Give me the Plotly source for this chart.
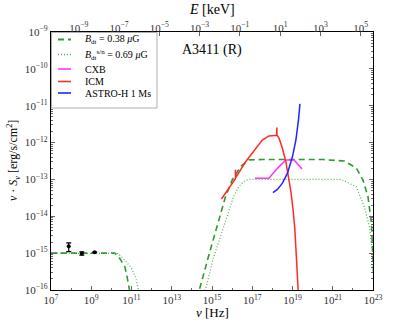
import numpy as np
import plotly.graph_objects as go

# ---------------- data (log10 values) ----------------
# radio synchrotron model
radio_lognu_dash = [7.0, 8.0, 9.0, 9.8, 10.17, 10.38, 10.67, 10.78, 10.9, 11.0]
radio_logS_dash = [-15.0, -15.0, -15.0, -15.0, -15.0, -15.11, -15.37, -15.64, -16.0, -16.5]
radio_lognu_dot = [7.0, 8.0, 9.0, 10.0, 10.33, 10.67, 11.0, 11.22, 11.37, 11.5]
radio_logS_dot = [-15.0, -15.0, -15.0, -15.0, -15.01, -15.19, -15.41, -15.68, -16.0, -16.4]

# inverse Compton model
ic_lognu_dash = [14.2, 14.37, 14.82, 15.25, 15.42, 15.67, 16.0, 16.42, 16.83, 17.5, 19.0,
                 20.5, 21.57, 22.17, 22.5, 22.75, 22.92, 23.02, 23.1]
ic_logS_dash = [-16.5, -16.0, -15.1, -14.28, -13.92, -13.47, -13.02, -12.65, -12.47, -12.46, -12.46,
                -12.46, -12.5, -12.69, -13.02, -13.47, -14.18, -15.19, -16.5]
ic_lognu_dot = [14.5, 14.67, 15.07, 15.55, 15.82, 16.07, 16.32, 16.57, 16.8, 18.0, 20.0,
                21.42, 22.17, 22.57, 22.82, 23.02, 23.1]
ic_logS_dot = [-16.5, -16.0, -15.13, -14.32, -13.91, -13.47, -13.2, -13.06, -13.0, -13.0, -13.0,
               -13.0, -13.2, -13.74, -14.28, -15.19, -16.5]

# CXB
cxb_lognu = [17.13, 17.83, 18.25, 18.67, 19.08, 19.47]
cxb_logS = [-12.97, -12.97, -12.7, -12.47, -12.47, -12.72]

# ICM
icm_lognu = [15.47, 15.92, 16.16, 16.17, 16.18, 16.67, 17.17, 17.5, 17.83, 18.13, 18.21, 18.22,
             18.23, 18.33, 18.5, 18.67, 18.8, 18.92, 19.03, 19.12, 19.28]
icm_logS = [-13.53, -13.15, -12.98, -12.74, -12.95, -12.52, -12.16, -11.93, -11.82, -11.81, -11.8,
            -11.59, -11.8, -11.88, -12.16, -12.52, -12.93, -13.33, -13.83, -14.37, -16.0]

# ASTRO-H 1 Ms sensitivity
astro_lognu = [18.03, 18.25, 18.5, 18.75, 19.0, 19.17, 19.3, 19.37]
astro_logS = [-13.36, -13.27, -13.1, -12.83, -12.38, -11.93, -11.37, -10.95]

# radio data points
obs_nu = [7.6e7, 3.4e8, 1.48e9]
obs_S = [1.55e-15, 0.98e-15, 1.06e-15]
obs_err_plus = [0.35e-15, 0.1e-15, 0.0]
obs_err_minus = [0.45e-15, 0.1e-15, 0.0]

H_KEV = 4.1357e-18  # keV s

nu_ticks = [10.0 ** e for e in range(7, 24, 2)]
nu_ticktext = ["10<sup>%d</sup>" % e for e in range(7, 24, 2)]
E_ticks = [10.0 ** e for e in range(-9, 6, 2)]
E_ticktext = [("10<sup>%d</sup>" % e).replace("-", "−") for e in range(-9, 6, 2)]
S_ticks = [10.0 ** e for e in range(-16, -8)]
S_ticktext = ["10<sup>−%d</sup>" % (-e) for e in range(-16, -8)]

legend_names = ["<i>B</i><sub>dt</sub> = 0.38 <i>μ</i>G",
                "<i>B</i><sub>dt</sub><sup>s/n</sup> = 0.69 <i>μ</i>G",
                "CXB", "ICM", "ASTRO-H 1 Ms"]


def lin(v):
    return [10.0 ** x for x in v]


FONT = "Liberation Serif, DejaVu Serif, serif"
GREEN = "#2e9a2e"
GREEN_L = "#4fae4f"
MAGENTA = "#ff33ff"
RED = "#ff2a2a"
BLUE = "#2424ff"
DASH = "6px,4px"
DOT = "1px,2px"

legend_styles = [(GREEN, DASH, 1.8), (GREEN_L, DOT, 1.3), (MAGENTA, "solid", 1.6),
                 (RED, "solid", 1.6), (BLUE, "solid", 1.6)]

fig = go.Figure()

# -------------------
# models
# -------------------
fig.add_trace(go.Scatter(x=lin(radio_lognu_dash), y=lin(radio_logS_dash), mode="lines",
                         line=dict(color=GREEN, width=1.6, dash=DASH)))
fig.add_trace(go.Scatter(x=lin(radio_lognu_dot), y=lin(radio_logS_dot), mode="lines",
                         line=dict(color=GREEN_L, width=1.2, dash=DOT)))
fig.add_trace(go.Scatter(x=lin(ic_lognu_dash), y=lin(ic_logS_dash), mode="lines",
                         line=dict(color=GREEN, width=1.6, dash=DASH)))
fig.add_trace(go.Scatter(x=lin(ic_lognu_dot), y=lin(ic_logS_dot), mode="lines",
                         line=dict(color=GREEN_L, width=1.2, dash=DOT)))

fig.add_trace(go.Scatter(x=lin(cxb_lognu), y=lin(cxb_logS), mode="lines",
                         line=dict(color=MAGENTA, width=1.5)))
fig.add_trace(go.Scatter(x=lin(icm_lognu), y=lin(icm_logS), mode="lines",
                         line=dict(color=RED, width=1.5)))
fig.add_trace(go.Scatter(x=lin(astro_lognu), y=lin(astro_logS), mode="lines",
                         line=dict(color=BLUE, width=1.5)))

# data points
fig.add_trace(go.Scatter(x=obs_nu, y=obs_S, mode="markers",
                         marker=dict(color="black", size=4),
                         error_y=dict(type="data", symmetric=False, array=obs_err_plus,
                                      arrayminus=obs_err_minus, color="black",
                                      thickness=1.2, width=2.5)))

# dummy trace for top energy axis
fig.add_trace(go.Scatter(x=[1e-9, 1e5], y=[1e-12, 1e-12], xaxis="x2", mode="lines",
                         line=dict(width=0), hoverinfo="skip"))

# -------------------
# layout
# -------------------
tickfont = dict(family=FONT, size=11, color="#333")
lo, hi = 7, 23
off = np.log10(H_KEV)

fig.update_layout(
    width=415, height=323,
    margin=dict(l=51, r=42, t=32, b=33),
    plot_bgcolor="white", paper_bgcolor="white",
    font=dict(family=FONT, color="black"),
    showlegend=False,
    xaxis=dict(type="log", range=[lo, hi], showgrid=False, zeroline=False,
               showline=True, linecolor="black", linewidth=1.2, mirror=True,
               tickvals=nu_ticks, ticktext=nu_ticktext, ticks="inside", ticklen=4,
               tickcolor="#666", tickfont=tickfont,
               minor=dict(tickvals=[10.0 ** e for e in range(8, 23, 2)], ticks="inside",
                          ticklen=2, tickcolor="#666")),
    xaxis2=dict(type="log", range=[lo + off, hi + off], overlaying="x", side="top",
                anchor="y", showgrid=False, zeroline=False, showline=False,
                tickvals=E_ticks, ticktext=E_ticktext, ticks="inside", ticklen=4,
                tickcolor="#666", tickfont=tickfont, ticklabelstandoff=-3),
    yaxis=dict(type="log", range=[-16, -9], showgrid=False, zeroline=False,
               showline=True, linecolor="black", linewidth=1.2, mirror="ticks",
               tickvals=S_ticks, ticktext=S_ticktext, ticks="inside", ticklen=4,
               tickcolor="#666", tickfont=tickfont,
               minor=dict(tickvals=[m * 10.0 ** e for e in range(-16, -9) for m in range(2, 10)],
                          ticks="inside", ticklen=2, tickcolor="#666")),
)

# -------------------
# hand-made legend (top-left box)
# -------------------
PW, PH = 322.0, 258.0  # plot area size in px


def px(x):
    return x / PW


def py(y):
    return 1 - y / PH


fig.add_shape(type="rect", xref="paper", yref="paper", x0=px(0.5), x1=px(106), y0=py(0.5), y1=py(76),
              line=dict(color="#b0b0b0", width=1), fillcolor="rgba(255,255,255,0.9)", layer="above")
row_y = [7.5, 22.5, 37, 49.5, 61]
for name, (col, dash, w), ry in zip(legend_names, legend_styles, row_y):
    fig.add_shape(type="line", xref="paper", yref="paper", x0=px(7), x1=px(20), y0=py(ry), y1=py(ry),
                  line=dict(color=col, width=w, dash=dash), layer="above")
    fig.add_annotation(text=name, x=px(32), y=py(ry), xref="paper", yref="paper", xanchor="left",
                       yanchor="middle", showarrow=False, font=dict(size=10, family=FONT))

fig.add_annotation(text="A3411 (R)", x=0.5, y=py(18), xref="paper", yref="paper",
                   xanchor="center", yanchor="middle", showarrow=False, font=dict(size=14))

fig.add_annotation(text="<i>E</i> [keV]", x=0.5, y=1, xref="paper", yref="paper",
                   xanchor="center", yanchor="middle", yshift=23, showarrow=False, font=dict(size=14))
fig.add_annotation(text="<i>ν</i> [Hz]", x=0.5, y=0, xref="paper", yref="paper",
                   xanchor="center", yanchor="middle", yshift=-22, showarrow=False, font=dict(size=13))
fig.add_annotation(text="<i>ν</i> · <i>S</i><sub><i>ν</i></sub> [erg/s/cm<sup>2</sup>]",
                   x=0, y=0.5, xref="paper", yref="paper", xanchor="center", yanchor="middle",
                   xshift=-38, textangle=-90, showarrow=False, font=dict(size=12))

fig.write_html("out.html", post_script="document.body.style.margin='0';",
               config={"displayModeBar": False})
